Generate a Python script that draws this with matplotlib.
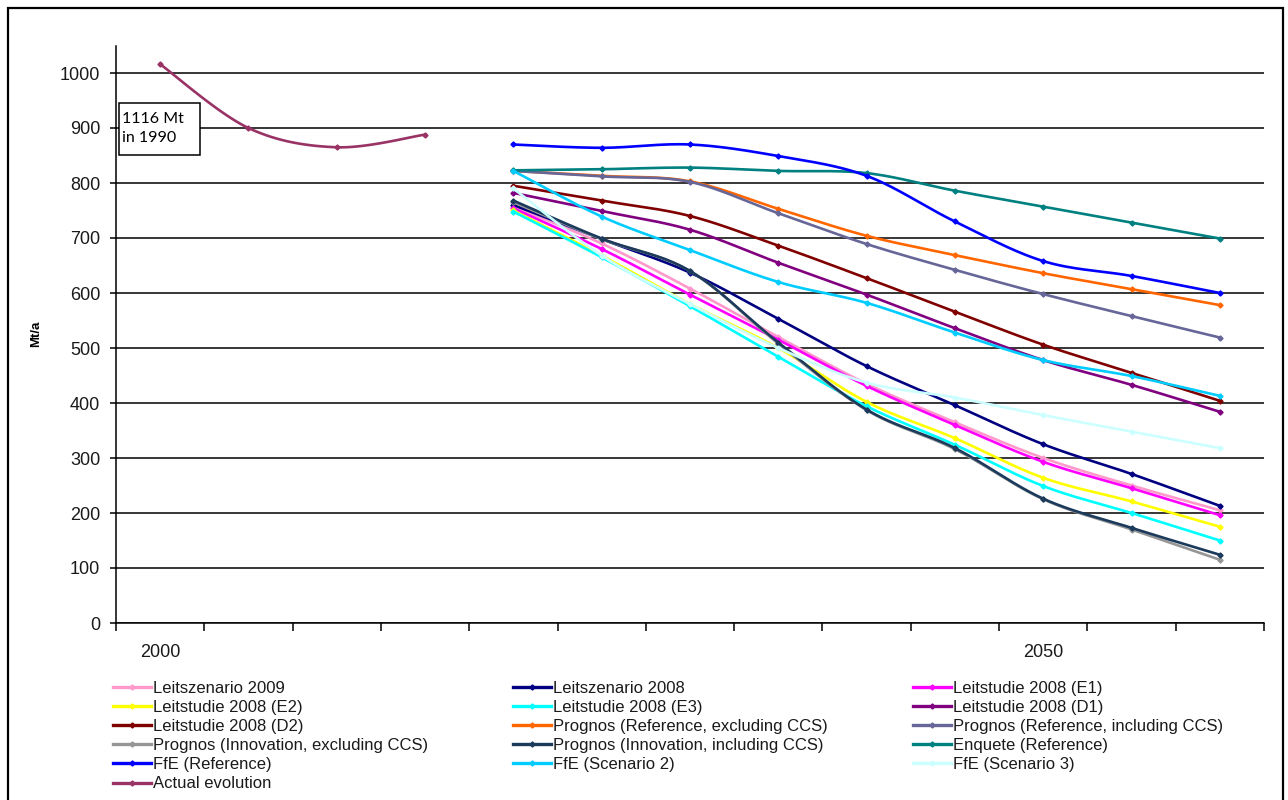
import numpy as np
import matplotlib
matplotlib.use("Agg")
import matplotlib.pyplot as plt
from matplotlib.lines import Line2D
from matplotlib.patches import Rectangle

plt.rcParams['font.family'] = ['Liberation Sans', 'DejaVu Sans']

# ---------------- data ----------------
categories = ["2000", "", "", "", "", "", "", "", "", "", "2050", "", ""]

N = None
leitszenario_2009 = [N, N, N, N, 757, 690, 608, 520, 435, 365, 300, 250, 205]
leitszenario_2008 = [N, N, N, N, 760, 698, 637, 553, 467, 396, 325, 271, 213]
leitstudie_e1 = [N, N, N, N, 754, 680, 597, 515, 431, 360, 293, 245, 196]
leitstudie_e2 = [N, N, N, N, 750, 668, 580, 500, 402, 336, 264, 221, 175]
leitstudie_e3 = [N, N, N, N, 748, 665, 576, 484, 394, 324, 249, 200, 150]
leitstudie_d1 = [N, N, N, N, 782, 749, 715, 655, 597, 536, 478, 433, 384]
leitstudie_d2 = [N, N, N, N, 795, 768, 740, 686, 627, 566, 506, 455, 404]
prognos_ref_excl = [N, N, N, N, 822, 813, 803, 753, 704, 669, 636, 607, 578]
prognos_ref_incl = [N, N, N, N, 822, 812, 802, 745, 689, 642, 598, 558, 519]
prognos_inno_excl = [N, N, N, N, 765, 698, 640, 508, 387, 316, 225, 170, 115]
prognos_inno_incl = [N, N, N, N, 768, 699, 640, 510, 388, 318, 226, 173, 124]
enquete_ref = [N, N, N, N, 823, 825, 828, 822, 818, 786, 757, 728, 699]
ffe_ref = [N, N, N, N, 870, 864, 870, 849, 813, 730, 658, 631, 600]
ffe_scen2 = [N, N, N, N, 822, 739, 678, 620, 582, 528, 478, 449, 413]
ffe_scen3 = [N, N, N, N, 790, 668, 580, 500, 437, 410, 378, 348, 318]
actual = [1016, 900, 865, 888, N, N, N, N, N, N, N, N, N]

series_names = [
    "Leitszenario 2009", "Leitszenario 2008", "Leitstudie 2008 (E1)",
    "Leitstudie 2008 (E2)", "Leitstudie 2008 (E3)", "Leitstudie 2008 (D1)",
    "Leitstudie 2008 (D2)", "Prognos (Reference, excluding CCS)",
    "Prognos (Reference, including CCS)", "Prognos (Innovation, excluding CCS)",
    "Prognos (Innovation, including CCS)", "Enquete (Reference)",
    "FfE (Reference)", "FfE (Scenario 2)", "FfE (Scenario 3)", "Actual evolution",
]
series_values = [
    leitszenario_2009, leitszenario_2008, leitstudie_e1, leitstudie_e2,
    leitstudie_e3, leitstudie_d1, leitstudie_d2, prognos_ref_excl,
    prognos_ref_incl, prognos_inno_excl, prognos_inno_incl, enquete_ref,
    ffe_ref, ffe_scen2, ffe_scen3, actual,
]
series_colors = [
    "#FF99CC", "#000080", "#FF00FF", "#FFFF00", "#00FFFF", "#800080",
    "#800000", "#FF6600", "#666699", "#969696", "#1B3A5C", "#008080",
    "#0000FF", "#00CCFF", "#CCFFFF", "#993366",
]
annotation_text = "1116 Mt\nin 1990"


def smooth(xs, ys, n=40):
    """Excel-like smoothed line (Catmull-Rom Bezier) through the given points."""
    P = np.column_stack([xs, ys]).astype(float)
    if len(P) < 2:
        return P[:, 0], P[:, 1]
    out = []
    for i in range(len(P) - 1):
        p0 = P[i - 1] if i > 0 else P[i]
        p1 = P[i]
        p2 = P[i + 1]
        p3 = P[i + 2] if i + 2 < len(P) else P[i + 1]
        c1 = p1 + (p2 - p0) / 6.0
        c2 = p2 - (p3 - p1) / 6.0
        t = np.linspace(0, 1, n)[:, None]
        seg = ((1 - t) ** 3) * p1 + 3 * ((1 - t) ** 2) * t * c1 + 3 * (1 - t) * t ** 2 * c2 + t ** 3 * p2
        out.append(seg if i == 0 else seg[1:])
    S = np.vstack(out)
    return S[:, 0], S[:, 1]


W, H = 1288, 800
fig = plt.figure(figsize=(W / 100, H / 100), dpi=100)
fig.patch.set_facecolor("white")

ax_left, ax_right, ax_top, ax_bottom = 116, 1264, 45.5, 623
ax = fig.add_axes([ax_left / W, 1 - ax_bottom / H, (ax_right - ax_left) / W, (ax_bottom - ax_top) / H])

x_all = np.arange(len(categories))
handles = []
for k, (name, vals, col) in enumerate(zip(series_names, series_values, series_colors)):
    xs = [x for x, v in zip(x_all, vals) if v is not None]
    ys = [v for v in vals if v is not None]
    sx, sy = smooth(xs, ys)
    ax.plot(sx, sy, color=col, lw=1.9, zorder=3 + k * 0.01, solid_capstyle="round")
    ax.plot(xs, ys, linestyle="none", marker="D", markersize=2.6, color=col,
            zorder=3 + k * 0.01 + 0.005)
    handles.append(Line2D([0], [0], color=col, lw=2.4, marker="D", markersize=2.6))

ax.set_xlim(-0.5, len(categories) - 0.5)
ax.set_ylim(0, 1050)
ax.set_yticks(np.arange(0, 1001, 100))
ax.yaxis.grid(True, color="black", lw=1.1)
ax.set_axisbelow(True)

# category boundaries as major ticks, labels as minor ticks at centres
ax.set_xticks(np.arange(-0.5, len(categories), 1.0))
ax.set_xticklabels([])
lab_pos = [i for i, c in enumerate(categories) if c]
ax.set_xticks(lab_pos, minor=True)
ax.set_xticklabels([categories[i] for i in lab_pos], minor=True)
ax.tick_params(axis="x", which="major", direction="out", length=5.5, width=1.1, color="black")
ax.tick_params(axis="x", which="minor", length=0, pad=15, labelsize=13, labelcolor="#1a1a1a")
ax.tick_params(axis="y", direction="out", length=4.3, width=1.1, pad=7, labelsize=13, labelcolor="#1a1a1a")

for s in ["top", "right"]:
    ax.spines[s].set_visible(False)
for s in ["left", "bottom"]:
    ax.spines[s].set_color("black")
    ax.spines[s].set_linewidth(1.1)

ax.set_ylabel("Mt/a", fontsize=9.5, fontweight="bold")
ax.yaxis.set_label_coords((42 - ax_left) / (ax_right - ax_left), 0.5)

# annotation box
bx0, by0, bx1, by1 = 119, 103, 200, 155
fig.patches.append(Rectangle((bx0 / W, 1 - by1 / H), (bx1 - bx0) / W, (by1 - by0) / H,
                             transform=fig.transFigure, facecolor="white",
                             edgecolor="black", lw=1.1, zorder=10))
fig.text(122 / W, 1 - 128.5 / H, annotation_text, fontsize=11.5, family=["Lato", "DejaVu Sans"],
         ha="left", va="center", linespacing=1.45, zorder=11)

# legend: three columns, row-major order like the original
col_x = [113, 513, 913]
row_top = 681
for c in range(3):
    idx = list(range(c, len(series_names), 3))
    leg = fig.legend([handles[i] for i in idx], [series_names[i] for i in idx],
                     loc="upper left", bbox_to_anchor=(col_x[c] / W, 1 - row_top / H),
                     frameon=False, fontsize=12, handlelength=2.25, handletextpad=0.15,
                     labelspacing=0.245, borderpad=0, borderaxespad=0)
    for t in leg.get_texts():
        t.set_color("#1a1a1a")

# outer chart border
fig.patches.append(Rectangle((8 / W, -0.05), (1283 - 8) / W, 1 - 8 / H + 0.05,
                             transform=fig.transFigure, fill=False, edgecolor="black",
                             lw=1.6, zorder=20))

fig.savefig("out.png", dpi=100)
